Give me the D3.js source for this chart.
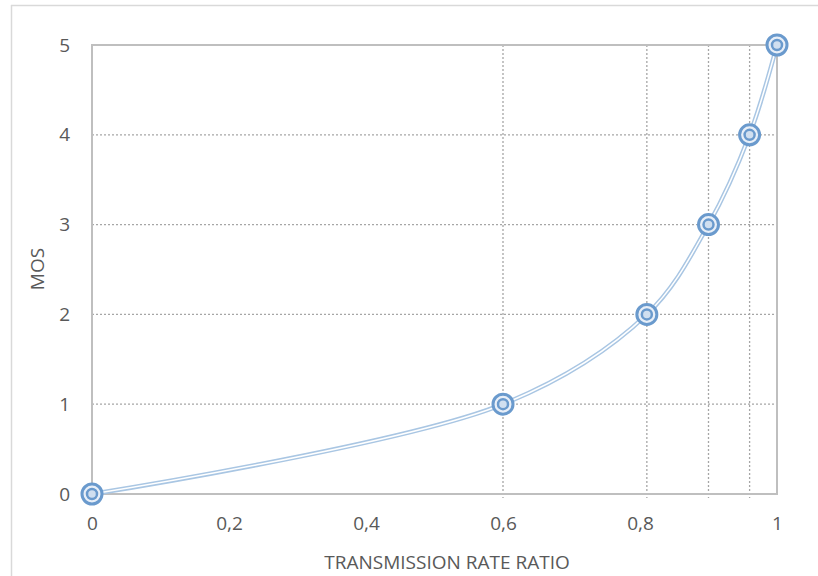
<!DOCTYPE html>
<html><head><meta charset="utf-8">
<script src="https://cdn.jsdelivr.net/npm/d3@7/dist/d3.min.js"></script>
<style>body{margin:0;background:#fff}text{font-family:"Open Sans","Liberation Sans",sans-serif;fill:#595959}</style>
</head><body>
<svg id="c" width="818" height="576"></svg>
<script>
const xValues = [0, 0.6, 0.81, 0.9, 0.96, 1];
const mosValues = [0, 1, 2, 3, 4, 5];
const xTicks = [0, 0.2, 0.4, 0.6, 0.8, 1];
const yTicks = [0, 1, 2, 3, 4, 5];
const xTitle = "TRANSMISSION RATE RATIO";
const yTitle = "MOS";

const svg = d3.select("#c");
const x = d3.scaleLinear().domain([0, 1]).range([92, 777]);
const y = d3.scaleLinear().domain([0, 5]).range([494, 45]);
const data = xValues.map((v, i) => ({x: v, y: mosValues[i]}));

// outer border
svg.append("line").attr("x1", 11).attr("x2", 818).attr("y1", 5.5).attr("y2", 5.5).attr("stroke", "#d9d9d9").attr("stroke-width", 1.5);
svg.append("line").attr("x1", 11.5).attr("x2", 11.5).attr("y1", 5).attr("y2", 576).attr("stroke", "#d9d9d9").attr("stroke-width", 1.5);

// horizontal gridlines
svg.append("g").selectAll("line").data(yTicks.filter(d => d > 0 && d < 5)).join("line")
  .attr("x1", x(0)).attr("x2", x(1)).attr("y1", d => y(d)).attr("y2", d => y(d))
  .attr("stroke", "#a6a6a6").attr("stroke-width", 1.3).attr("stroke-dasharray", "2,2");
// vertical gridlines at data points
svg.append("g").selectAll("line").data(xValues.filter(d => d > 0 && d < 1)).join("line")
  .attr("x1", d => x(d)).attr("x2", d => x(d)).attr("y1", y(5)).attr("y2", y(0) + 4)
  .attr("stroke", "#a6a6a6").attr("stroke-width", 1.3).attr("stroke-dasharray", "2,2");

// plot border
svg.append("rect").attr("x", x(0)).attr("y", y(5)).attr("width", x(1) - x(0)).attr("height", y(0) - y(5))
  .attr("fill", "none").attr("stroke", "#bfbfbf").attr("stroke-width", 2);

// axes labels
const xAxis = d3.axisBottom(x).tickValues(xTicks).tickSize(0).tickPadding(23)
  .tickFormat(d => d3.format("~g")(d).replace(".", ","));
const gx = svg.append("g").attr("transform", `translate(0,${y(0)})`).call(xAxis);
gx.select(".domain").remove();
gx.selectAll("text").attr("font-size", 19).style("fill", "#595959");
const yAxis = d3.axisLeft(y).tickValues(yTicks).tickSize(0).tickPadding(22).tickFormat(d3.format("d"));
const gy = svg.append("g").attr("transform", `translate(${x(0)},0)`).call(yAxis);
gy.select(".domain").remove();
gy.selectAll("text").attr("font-size", 19).style("fill", "#595959");

svg.append("text").attr("x", 447).attr("y", 569).attr("text-anchor", "middle").attr("font-size", 19).text(xTitle);
svg.append("text").attr("transform", "translate(44,269) rotate(-90)").attr("text-anchor", "middle").attr("font-size", 19).text(yTitle);

// curve
const line = d3.line().x(d => x(d.x)).y(d => y(d.y)).curve(d3.curveCatmullRom.alpha(0.5));
svg.append("path").datum(data).attr("d", line).attr("fill", "none").attr("stroke", "#a9c6e3").attr("stroke-width", 4.5);
svg.append("path").datum(data).attr("d", line).attr("fill", "none").attr("stroke", "#ffffff").attr("stroke-width", 1.5);

// markers
const m = svg.append("g").selectAll("g").data(data).join("g").attr("transform", d => `translate(${x(d.x)},${y(d.y)})`);
m.append("circle").attr("r", 10).attr("fill", "#e8eff8").attr("stroke", "#6a9acd").attr("stroke-width", 3);
m.append("circle").attr("r", 5).attr("fill", "#d0dff0").attr("stroke", "#6a9acd").attr("stroke-width", 2.5);
</script>
</body></html>
